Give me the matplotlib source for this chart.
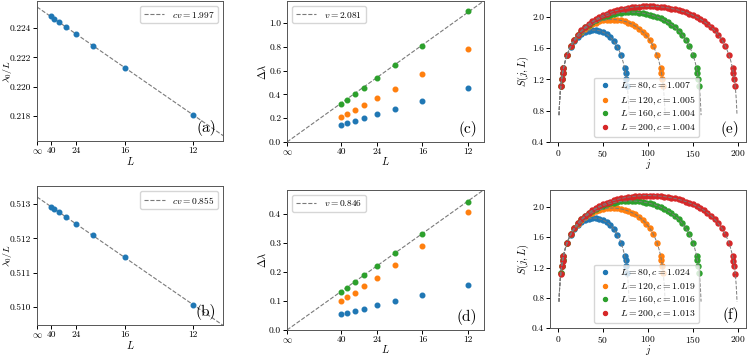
import numpy as np
import matplotlib
matplotlib.use("Agg")
import matplotlib.pyplot as plt
from matplotlib.ticker import FormatStrFormatter

plt.rcParams['font.family'] = 'cmr10'
plt.rcParams['mathtext.fontset'] = 'cm'
plt.rcParams['axes.formatter.use_mathtext'] = True
plt.rcParams['axes.unicode_minus'] = False

# system sizes of the finite size scaling (panels a-d)
sizes = [40, 36, 32, 28, 24, 20, 16, 12]
tick_sizes = [40, 24, 16, 12]

# ground state energy per site
lam_a = [0.22480, 0.22461, 0.22439, 0.22407, 0.22359, 0.22278, 0.22128, 0.21808]
lam_b = [0.51292, 0.51285, 0.51277, 0.51263, 0.51242, 0.51209, 0.51145, 0.51005]
cv_a = 1.997
cv_b = 0.855

# gaps
gap_c_blue = [0.140, 0.157, 0.176, 0.201, 0.232, 0.280, 0.347, 0.452]
gap_c_orange = [0.213, 0.238, 0.271, 0.310, 0.369, 0.447, 0.570, 0.785]
gap_c_green = [0.318, 0.355, 0.400, 0.458, 0.536, 0.648, 0.812, 1.103]
v_c = 2.081
gap_d_blue = [0.054, 0.059, 0.065, 0.074, 0.085, 0.100, 0.122, 0.156]
gap_d_orange = [0.101, 0.114, 0.129, 0.151, 0.180, 0.223, 0.289, 0.405]
gap_d_green = [0.131, 0.146, 0.166, 0.188, 0.220, 0.265, 0.331, 0.441]
v_d = 0.846

# entanglement entropy (panels e, f)
chain_L = [80, 120, 160, 200]
j80 = [3, 4, 5] + list(range(6, 75, 4)) + [75, 76, 77]
j120 = [3, 4, 5] + list(range(6, 115, 4)) + [115, 116, 117]
j160 = [3, 4, 5] + list(range(6, 155, 4)) + [155, 156, 157]
j200 = [3, 4, 5] + list(range(6, 195, 4)) + [195, 196, 197]

s_e80 = [1.111, 1.207, 1.281, 1.341, 1.507, 1.612, 1.685, 1.738, 1.776, 1.803, 1.820, 1.829,
         1.829, 1.820, 1.803, 1.776, 1.738, 1.685, 1.612, 1.507, 1.341, 1.281, 1.207, 1.111]
s_e120 = [1.111, 1.207, 1.281, 1.342, 1.511, 1.620, 1.699, 1.760, 1.808, 1.847, 1.879, 1.904,
          1.925, 1.940, 1.952, 1.959, 1.963,
          1.963, 1.959, 1.952, 1.940, 1.925, 1.904, 1.879, 1.847, 1.808, 1.760, 1.699, 1.620,
          1.511, 1.342, 1.281, 1.207, 1.111]
s_e160 = [1.111, 1.207, 1.281, 1.342, 1.512, 1.622, 1.703, 1.767, 1.819, 1.862, 1.898, 1.929,
          1.955, 1.978, 1.997, 2.013, 2.026, 2.037, 2.046, 2.052, 2.056, 2.058,
          2.058, 2.056, 2.052, 2.046, 2.037, 2.026, 2.013, 1.997, 1.978, 1.955, 1.929, 1.898,
          1.862, 1.819, 1.767, 1.703, 1.622, 1.512, 1.342, 1.281, 1.207, 1.111]
s_e200 = [1.111, 1.207, 1.281, 1.342, 1.512, 1.624, 1.706, 1.771, 1.824, 1.869, 1.907, 1.940,
          1.969, 1.995, 2.017, 2.037, 2.054, 2.070, 2.083, 2.095, 2.104, 2.113, 2.120, 2.125,
          2.129, 2.132, 2.133,
          2.133, 2.132, 2.129, 2.125, 2.120, 2.113, 2.104, 2.095, 2.083, 2.070, 2.054, 2.037,
          2.017, 1.995, 1.969, 1.940, 1.907, 1.869, 1.824, 1.771, 1.706, 1.624, 1.512, 1.342,
          1.281, 1.207, 1.111]
c_e = [1.007, 1.005, 1.004, 1.004]

s_f80 = [1.123, 1.221, 1.296, 1.357, 1.526, 1.632, 1.707, 1.760, 1.800, 1.827, 1.844, 1.853,
         1.853, 1.844, 1.827, 1.800, 1.760, 1.707, 1.632, 1.526, 1.357, 1.296, 1.221, 1.123]
s_f120 = [1.122, 1.219, 1.295, 1.356, 1.527, 1.638, 1.718, 1.780, 1.829, 1.869, 1.901, 1.927,
          1.947, 1.963, 1.975, 1.982, 1.986,
          1.986, 1.982, 1.975, 1.963, 1.947, 1.927, 1.901, 1.869, 1.829, 1.780, 1.718, 1.638,
          1.527, 1.356, 1.295, 1.219, 1.122]
s_f160 = [1.121, 1.218, 1.294, 1.355, 1.527, 1.638, 1.721, 1.785, 1.838, 1.881, 1.918, 1.949,
          1.976, 1.998, 2.018, 2.034, 2.048, 2.059, 2.067, 2.074, 2.078, 2.080,
          2.080, 2.078, 2.074, 2.067, 2.059, 2.048, 2.034, 2.018, 1.998, 1.976, 1.949, 1.918,
          1.881, 1.838, 1.785, 1.721, 1.638, 1.527, 1.355, 1.294, 1.218, 1.121]
s_f200 = [1.120, 1.217, 1.292, 1.354, 1.525, 1.637, 1.720, 1.786, 1.840, 1.885, 1.924, 1.957,
          1.986, 2.012, 2.035, 2.054, 2.072, 2.087, 2.101, 2.113, 2.123, 2.131, 2.138, 2.143,
          2.147, 2.150, 2.151,
          2.151, 2.150, 2.147, 2.143, 2.138, 2.131, 2.123, 2.113, 2.101, 2.087, 2.072, 2.054,
          2.035, 2.012, 1.986, 1.957, 1.924, 1.885, 1.840, 1.786, 1.720, 1.637, 1.525, 1.354,
          1.292, 1.217, 1.120]
c_f = [1.024, 1.019, 1.016, 1.013]

TICK = 6.8
LAB = 7.5
FIT = '#7a7a7a'


def style(ax):
    ax.tick_params(labelsize=TICK, length=3, width=0.7, pad=1.2)
    for s in ax.spines.values():
        s.set_linewidth(0.7)
        s.set_color('#555555')


def panelTag(ax, tag):
    ax.text(0.965, 0.035, tag, transform=ax.transAxes, ha='right', va='bottom', fontsize=11)


def energyPanel(ax, lam, cv, ylim, yticks, tag):
    """lambda_0/L against 1/L^2 with a linear fit"""
    x = 1 / np.array(sizes, dtype=float) ** 2
    slope, icpt = np.polyfit(x, lam, 1)
    xl = np.array([0, 1 / 10.0 ** 2])
    ax.plot(xl, icpt + slope * xl, '--', color=FIT, lw=0.8, label=r'$cv = %.3f$' % cv)
    ax.plot(x, lam, 'o', ms=3.3, color='C0')
    ax.set_xlim(0, 1 / 11.0 ** 2)
    ax.set_ylim(*ylim)
    ax.set_xticks([0] + [1 / t ** 2 for t in tick_sizes])
    ax.set_xticklabels([r'$\infty$'] + [str(t) for t in tick_sizes])
    ax.set_yticks(yticks)
    ax.yaxis.set_major_formatter(FormatStrFormatter('%.3f'))
    ax.set_xlabel(r'$L$', fontsize=LAB, labelpad=-0.5)
    ax.set_ylabel(r'$\lambda_0/L$', fontsize=7.1)
    ax.yaxis.set_label_coords(-0.125, 0.5)
    ax.legend(loc='upper right', fontsize=TICK, handlelength=2.2)
    style(ax)
    panelTag(ax, tag)


def gapPanel(ax, gaps, v, ylim, yticks, tag):
    """gaps against 1/L with the line 2 pi v x"""
    x = 1 / np.array(sizes, dtype=float)
    xl = np.array([0, 1 / 10.0])
    ax.plot(xl, 2 * np.pi * v * xl, '--', color=FIT, lw=0.8, label=r'$v = %.3f$' % v)
    for g, col in zip(gaps, ['C0', 'C1', 'C2']):
        ax.plot(x, g, 'o', ms=3.3, color=col)
    ax.set_xlim(0, 1 / 11.0)
    ax.set_ylim(*ylim)
    ax.set_xticks([0] + [1 / t for t in tick_sizes])
    ax.set_xticklabels([r'$\infty$'] + [str(t) for t in tick_sizes])
    ax.set_yticks(yticks)
    ax.yaxis.set_major_formatter(FormatStrFormatter('%.1f'))
    ax.set_xlabel(r'$L$', fontsize=LAB, labelpad=-1)
    ax.set_ylabel(r'$\Delta\lambda$', fontsize=LAB, labelpad=1)
    ax.legend(loc='upper left', fontsize=TICK, handlelength=2.2)
    style(ax)
    panelTag(ax, tag)


def entropyPanel(ax, js, ss, cs, ylim, tag):
    """S(j,L) with the CFT fits c/3 log(L/pi sin(pi j/L)) + s0"""
    cols = ['C0', 'C1', 'C2', 'C3']
    for L, j, s, c, col in zip(chain_L, js, ss, cs, cols):
        ax.plot(j, s, 'o', ms=3.6, color=col, ls='none', label=r'$L = %d, c = %.3f$' % (L, c))
    for L, j, s, c in zip(chain_L, js, ss, cs):
        j = np.array(j, dtype=float)
        shape = c / 3 * np.log(L / np.pi * np.sin(np.pi * j / L))
        s0 = np.mean(np.array(s) - shape)
        jj = np.linspace(1, L - 1, 600)
        ax.plot(jj, c / 3 * np.log(L / np.pi * np.sin(np.pi * jj / L)) + s0, '--', color=FIT, lw=0.7)
    ax.set_xlim(-9, 209)
    ax.set_ylim(*ylim)
    ax.set_xticks([0, 50, 100, 150, 200])
    ax.set_yticks([0.4, 0.8, 1.2, 1.6, 2.0])
    ax.yaxis.set_major_formatter(FormatStrFormatter('%.1f'))
    ax.set_xlabel(r'$j$', fontsize=LAB, labelpad=-1.2)
    ax.set_ylabel(r'$S(j,L)$', fontsize=LAB, labelpad=1)
    ax.legend(loc='lower left', bbox_to_anchor=(0.2, 0.0), fontsize=7.0, handlelength=1.5,
              markerscale=0.8, labelspacing=0.2, borderpad=0.35)
    style(ax)
    panelTag(ax, tag)


W, H = 747, 356
fig = plt.figure(figsize=(W / 100, H / 100), dpi=100)


def box(l, t, r, b):
    return [l / W, 1 - b / H, (r - l) / W, (b - t) / H]


axA = fig.add_axes(box(37, 1, 223, 141))
axC = fig.add_axes(box(287, 1, 484, 142))
axE = fig.add_axes(box(550, 1, 746, 142))
axB = fig.add_axes(box(37, 186, 223, 325))
axD = fig.add_axes(box(287, 190, 484, 330))
axF = fig.add_axes(box(550, 190, 746, 328))

energyPanel(axA, lam_a, cv_a, (0.2163, 0.22584), [0.218, 0.220, 0.222, 0.224], '(a)')
energyPanel(axB, lam_b, cv_b, (0.50947, 0.51353), [0.510, 0.511, 0.512, 0.513], '(b)')
gapPanel(axC, [gap_c_blue, gap_c_orange, gap_c_green], v_c, (0, 1.187), [0, 0.2, 0.4, 0.6, 0.8, 1.0], '(c)')
gapPanel(axD, [gap_d_blue, gap_d_orange, gap_d_green], v_d, (0, 0.482), [0, 0.1, 0.2, 0.3, 0.4], '(d)')
entropyPanel(axE, [j80, j120, j160, j200], [s_e80, s_e120, s_e160, s_e200], c_e, (0.4, 2.2), '(e)')
entropyPanel(axF, [j80, j120, j160, j200], [s_f80, s_f120, s_f160, s_f200], c_f, (0.4, 2.225), '(f)')

fig.savefig('out.png', dpi=100)
